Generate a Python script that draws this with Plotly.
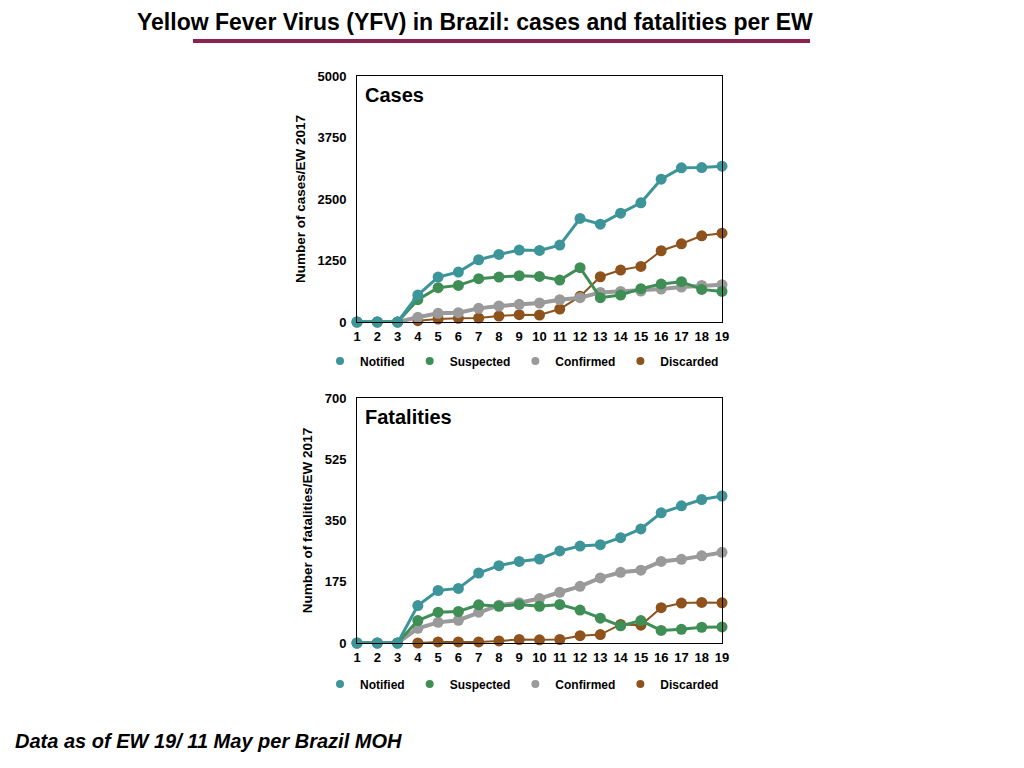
import plotly.graph_objects as go

weeks = list(range(1, 20))

cases_notified = [0, 0, 0, 548, 913, 1015, 1265, 1373, 1461, 1455, 1563, 2104, 1989, 2212, 2422, 2903, 3133, 3139, 3166]
cases_suspected = [0, 0, 0, 453, 697, 744, 880, 913, 940, 927, 852, 1103, 494, 548, 677, 771, 819, 663, 622]
cases_confirmed = [0, 0, 0, 95, 176, 189, 277, 325, 359, 386, 453, 494, 602, 622, 630, 670, 710, 744, 758]
cases_discarded = [None, None, None, 27, 61, 74, 81, 122, 149, 142, 264, 521, 920, 1055, 1130, 1448, 1590, 1752, 1806]

fat_notified = [0, 0, 0, 107, 150, 156, 200, 221, 233, 240, 263, 277, 281, 301, 326, 372, 392, 410, 420]
fat_suspected = [0, 0, 0, 64, 88, 90, 109, 105, 110, 105, 110, 94, 71, 49, 64, 36, 39, 45, 46]
fat_confirmed = [0, 0, 0, 42, 59, 65, 88, 108, 115, 127, 145, 162, 186, 202, 208, 233, 239, 249, 259]
fat_discarded = [None, None, None, 0, 3, 3, 3, 6, 10, 9, 10, 21, 24, 53, 51, 101, 114, 116, 115]

cases_ticks = [0, 1250, 2500, 3750, 5000]
fat_ticks = [0, 175, 350, 525, 700]

series_names = ["Notified", "Suspected", "Confirmed", "Discarded"]
colors = {"Notified": "#3d9599", "Suspected": "#3e8e55", "Confirmed": "#9a9a9a", "Discarded": "#8e531d"}
widths = {"Notified": 3, "Suspected": 3, "Confirmed": 4, "Discarded": 2}

FONT = "Liberation Sans, Arial, sans-serif"

# page is drawn with the browser's 8px body margin, so work in screen pixels
W, H, OFF = 1016, 760, 8


def px(x):
    return (x - OFF) / W


def py(y):
    return 1 - (y - OFF) / H


fig = go.Figure()


def add_series(values, xaxis, yaxis, legend):
    # draw in reverse so Notified ends up on top
    for name, ys in reversed(list(zip(series_names, values))):
        fig.add_trace(go.Scatter(
            x=weeks, y=ys, name=name, mode="lines+markers", showlegend=False,
            line=dict(color=colors[name], width=widths[name]),
            marker=dict(color=colors[name], size=11),
            xaxis=xaxis, yaxis=yaxis, cliponaxis=False,
        ))
    # small legend keys: marker only
    for name in series_names:
        fig.add_trace(go.Scatter(
            x=[None], y=[None], name=name, mode="markers",
            marker=dict(color=colors[name], size=8),
            xaxis=xaxis, yaxis=yaxis, legend=legend,
        ))


add_series([cases_notified, cases_suspected, cases_confirmed, cases_discarded], "x", "y", "legend")
add_series([fat_notified, fat_suspected, fat_confirmed, fat_discarded], "x2", "y2", "legend2")

tickfont = dict(family=FONT, size=13, color="black", weight="bold")
titlefont = dict(family=FONT, size=13.5, color="black", weight="bold")
axis_common = dict(showgrid=False, zeroline=False, showline=True, linecolor="black", linewidth=1,
                   mirror=True, ticks="", tickfont=tickfont)

legend_common = dict(orientation="h", xanchor="center", yanchor="middle",
                     font=dict(family=FONT, size=12, color="black", weight="bold"),
                     itemwidth=30, bgcolor="rgba(0,0,0,0)")

fig.update_layout(
    width=W, height=H,
    margin=dict(l=0, r=0, t=0, b=0, autoexpand=False),
    paper_bgcolor="white", plot_bgcolor="white",
    showlegend=True,
    xaxis=dict(domain=[px(357), px(722)], range=[1, 19], tickmode="array", tickvals=weeks,
               anchor="y", ticklabelstandoff=2, **axis_common),
    yaxis=dict(domain=[py(322), py(76)], range=[0, 5000], tickvals=cases_ticks, anchor="x",
               ticklabelstandoff=7,
               title=dict(text="Number of cases/EW 2017", standoff=8, font=titlefont),
               **axis_common),
    xaxis2=dict(domain=[px(357), px(722)], range=[1, 19], tickmode="array", tickvals=weeks,
                anchor="y2", ticklabelstandoff=2, **axis_common),
    yaxis2=dict(domain=[py(643), py(398)], range=[0, 700], tickvals=fat_ticks, anchor="x2",
                ticklabelstandoff=7,
                title=dict(text="Number of fatalities/EW 2017", standoff=8, font=titlefont),
                **axis_common),
    legend=dict(x=px(522), y=py(361), **legend_common),
    legend2=dict(x=px(522), y=py(684), **legend_common),
)

for axis, label in [("", "Cases"), ("2", "Fatalities")]:
    fig.add_annotation(text=label, xref="x%s domain" % axis, yref="y%s domain" % axis,
                       x=6 / 365, y=1 - 6 / 246, xanchor="left", yanchor="top", showarrow=False,
                       font=dict(family=FONT, size=20, color="black", weight="bold"))

fig.add_annotation(text="Yellow Fever Virus (YFV) in Brazil: cases and fatalities per EW",
                   xref="paper", yref="paper", x=px(475), y=1,
                   xanchor="center", yanchor="top", showarrow=False, borderpad=0,
                   font=dict(family=FONT, size=23, color="black", weight="bold"))
fig.add_shape(type="line", xref="paper", yref="paper", x0=px(193), x1=px(810),
              y0=py(41), y1=py(41), line=dict(color="#8b2252", width=4))

fig.add_annotation(text="<i>Data as of EW 19/ 11 May per Brazil MOH</i>",
                   xref="paper", yref="paper", x=px(13), y=py(741),
                   xanchor="left", yanchor="middle", showarrow=False,
                   font=dict(family=FONT, size=20, color="black", weight="bold"))

fig.write_html("out.html")
